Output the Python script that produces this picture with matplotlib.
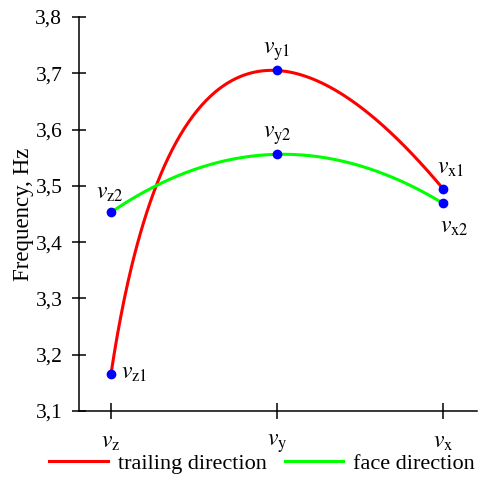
import matplotlib
matplotlib.use('Agg')
import matplotlib.pyplot as plt
import numpy as np

plt.rcParams['font.family'] = 'Liberation Serif'
plt.rcParams['mathtext.fontset'] = 'stix'

# positions along the x axis (v_z, v_y, v_x)
categories = [r'$v_{\mathrm{z}}$', r'$v_{\mathrm{y}}$', r'$v_{\mathrm{x}}$']
xpos = [0, 1, 2]

trailing = [3.166, 3.705, 3.495]
face = [3.453, 3.556, 3.469]

trailing_labels = [r'$v_{\mathrm{z1}}$', r'$v_{\mathrm{y1}}$', r'$v_{\mathrm{x1}}$']
face_labels = [r'$v_{\mathrm{z2}}$', r'$v_{\mathrm{y2}}$', r'$v_{\mathrm{x2}}$']

yticks = [3.1, 3.2, 3.3, 3.4, 3.5, 3.6, 3.7, 3.8]

fig = plt.figure(figsize=(4.81, 4.91), dpi=100)
ax = fig.add_axes([79 / 481, 1 - 411 / 491, 398 / 481, 394 / 491])

xlim = (-0.193, 2.205)
ylim = (3.1, 3.8)
ax.set_xlim(*xlim)
ax.set_ylim(*ylim)


def smooth(x, y, n=200):
    # parametric quadratic through three points, chord-length parameter
    bb = ax.get_position()
    sx = bb.width * 481 / (xlim[1] - xlim[0])
    sy = bb.height * 491 / (ylim[1] - ylim[0])
    x = np.asarray(x, float)
    y = np.asarray(y, float)
    d = np.hypot(np.diff(x) * sx, np.diff(y) * sy)
    t = np.concatenate([[0], np.cumsum(d)]) / d.sum()
    cx = np.polyfit(t, x, 2)
    cy = np.polyfit(t, y, 2)
    tt = np.linspace(0, 1, n)
    return np.polyval(cx, tt), np.polyval(cy, tt)


xs, ys = smooth(xpos, trailing)
ax.plot(xs, ys, color='#ff0000', lw=2.2, label='trailing direction', zorder=2)
xs, ys = smooth(xpos, face)
ax.plot(xs, ys, color='#00ff00', lw=2.2, label='face direction', zorder=2)

ax.plot(xpos, trailing, 'o', color='#0000ff', ms=6, zorder=3)
ax.plot(xpos, face, 'o', color='#0000ff', ms=6, zorder=3)

fs_lab = 17
# point labels
offsets_trailing = [((10, 0), 'left', 'center'), ((0, 7), 'center', 'bottom'), ((8, 10), 'center', 'bottom')]
offsets_face = [((-1, 8), 'center', 'bottom'), ((0, 7), 'center', 'bottom'), ((11, -14), 'center', 'top')]
for lab, x, y, (off, ha, va) in zip(trailing_labels, xpos, trailing, offsets_trailing):
    ax.annotate(lab, (x, y), xytext=off, textcoords='offset pixels', ha=ha, va=va, fontsize=fs_lab)
for lab, x, y, (off, ha, va) in zip(face_labels, xpos, face, offsets_face):
    ax.annotate(lab, (x, y), xytext=off, textcoords='offset pixels', ha=ha, va=va, fontsize=fs_lab)

ax.set_xticks(xpos)
ax.set_xticklabels(categories, fontsize=fs_lab)
ax.set_yticks(yticks)
ax.set_yticklabels([f'{v:.1f}'.replace('.', ',') for v in yticks], fontsize=15.5)
ax.tick_params(axis='y', direction='inout', length=10, width=1.1, pad=7)
ax.tick_params(axis='x', direction='inout', length=12, width=1.1, pad=9)

for s in ['top', 'right']:
    ax.spines[s].set_visible(False)
for s in ['left', 'bottom']:
    ax.spines[s].set_linewidth(1.1)

ax.set_ylabel('Frequency, Hz', fontsize=16.5, labelpad=1)

fig.legend(loc='lower center', bbox_to_anchor=(0.545, -0.006), ncol=2, frameon=False,
           fontsize=16, handlelength=2.65, handletextpad=0.45, columnspacing=0.8)

fig.savefig('out.png', dpi=100)
